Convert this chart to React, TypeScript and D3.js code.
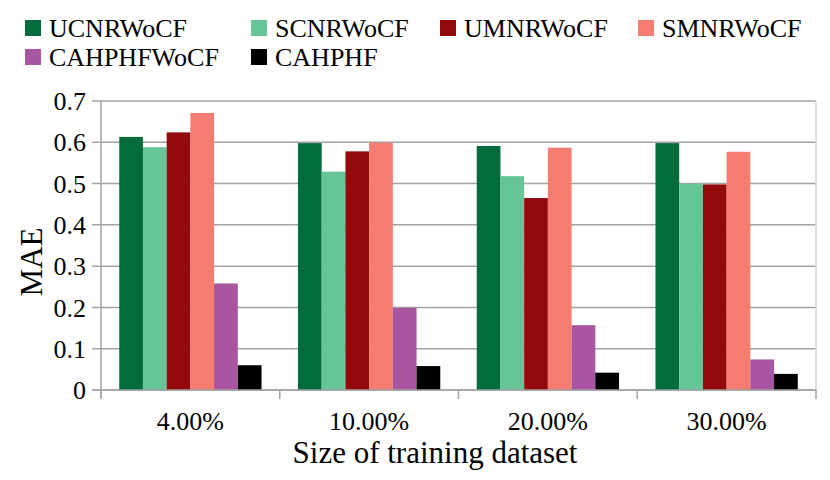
import React from "react";
import * as d3 from "d3";

const categories = ["4.00%", "10.00%", "20.00%", "30.00%"];
const seriesNames = ["UCNRWoCF", "SCNRWoCF", "UMNRWoCF", "SMNRWoCF", "CAHPHFWoCF", "CAHPHF"];
const UCNRWoCF = [0.613, 0.598, 0.591, 0.598];
const SCNRWoCF = [0.588, 0.529, 0.518, 0.5];
const UMNRWoCF = [0.624, 0.578, 0.465, 0.498];
const SMNRWoCF = [0.671, 0.599, 0.587, 0.577];
const CAHPHFWoCF = [0.258, 0.199, 0.157, 0.074];
const CAHPHF = [0.06, 0.058, 0.042, 0.039];
const seriesValues = [UCNRWoCF, SCNRWoCF, UMNRWoCF, SMNRWoCF, CAHPHFWoCF, CAHPHF];
const colors = ["#026d3b", "#66c597", "#930a0d", "#f47c71", "#a855a2", "#000000"];
const yTicks = [0, 0.1, 0.2, 0.3, 0.4, 0.5, 0.6, 0.7];

const W = 830;
const H = 480;
const left = 101;
const right = 816;
const top = 101;
const bottom = 390;
const font = "'Liberation Serif', 'Times New Roman', serif";

export default function App() {
  const x0 = d3.scaleBand<string>().domain(categories).range([left, right]).padding(0);
  const bw = x0.bandwidth();
  const x1 = d3
    .scaleBand<string>()
    .domain(seriesNames)
    .range([bw * 0.102, bw * 0.898])
    .padding(0);
  const y = d3.scaleLinear().domain([0, 0.7]).range([bottom, top]);

  const legendPos = [
    [25, 20],
    [251, 20],
    [440, 20],
    [638, 20],
    [25, 49],
    [251, 49],
  ];

  return (
    <svg
      width={W}
      height={H}
      style={{ position: "absolute", left: 0, top: 0, background: "#fff" }}
      fontFamily={font}
    >
      {/* gridlines */}
      {yTicks.map((t) => (
        <line
          key={"g" + t}
          x1={left - 9}
          x2={right}
          y1={y(t)}
          y2={y(t)}
          stroke="#a3a3a3"
          strokeWidth={1.5}
        />
      ))}
      {/* right border */}
      <line x1={right} x2={right} y1={top} y2={bottom} stroke="#d4d4d4" strokeWidth={1.5} />
      {/* bars */}
      {categories.map((c, ci) => (
        <g key={c} transform={`translate(${x0(c)},0)`}>
          {seriesNames.map((s, si) => (
            <rect
              key={s}
              x={x1(s)}
              y={y(seriesValues[si][ci])}
              width={x1.bandwidth()}
              height={y(0) - y(seriesValues[si][ci])}
              fill={colors[si]}
            />
          ))}
        </g>
      ))}
      {/* y axis line */}
      <line x1={left} x2={left} y1={top} y2={bottom + 8} stroke="#a3a3a3" strokeWidth={1.5} />
      {/* x axis */}
      <line x1={left - 9} x2={right} y1={bottom} y2={bottom} stroke="#a3a3a3" strokeWidth={1.5} />
      {[...categories.map((c) => x0(c) as number), right].map((xv, i) => (
        <line key={"xt" + i} x1={xv} x2={xv} y1={bottom} y2={bottom + 9} stroke="#a3a3a3" strokeWidth={1.5} />
      ))}
      {/* y tick labels */}
      {yTicks.map((t) => (
        <text key={"yl" + t} x={86} y={y(t)} dy="0.35em" textAnchor="end" fontSize={26} fill="#000">
          {t === 0 ? "0" : d3.format(".1f")(t)}
        </text>
      ))}
      {/* x tick labels */}
      {categories.map((c) => (
        <text key={"xl" + c} x={(x0(c) as number) + bw / 2} y={430} textAnchor="middle" fontSize={26} fill="#000">
          {c}
        </text>
      ))}
      {/* axis titles */}
      <text x={435} y={463} textAnchor="middle" fontSize={31} fill="#000">
        Size of training dataset
      </text>
      <text transform={`translate(41.5,262) rotate(-90)`} textAnchor="middle" fontSize={31} fill="#000">
        MAE
      </text>
      {/* legend */}
      {seriesNames.map((s, i) => (
        <g key={"lg" + s} transform={`translate(${legendPos[i][0]},${legendPos[i][1]})`}>
          <rect x={0} y={0} width={16} height={16} fill={colors[i]} />
          <text x={24} y={16.5} fontSize={26} fill="#000">
            {s}
          </text>
        </g>
      ))}
    </svg>
  );
}
